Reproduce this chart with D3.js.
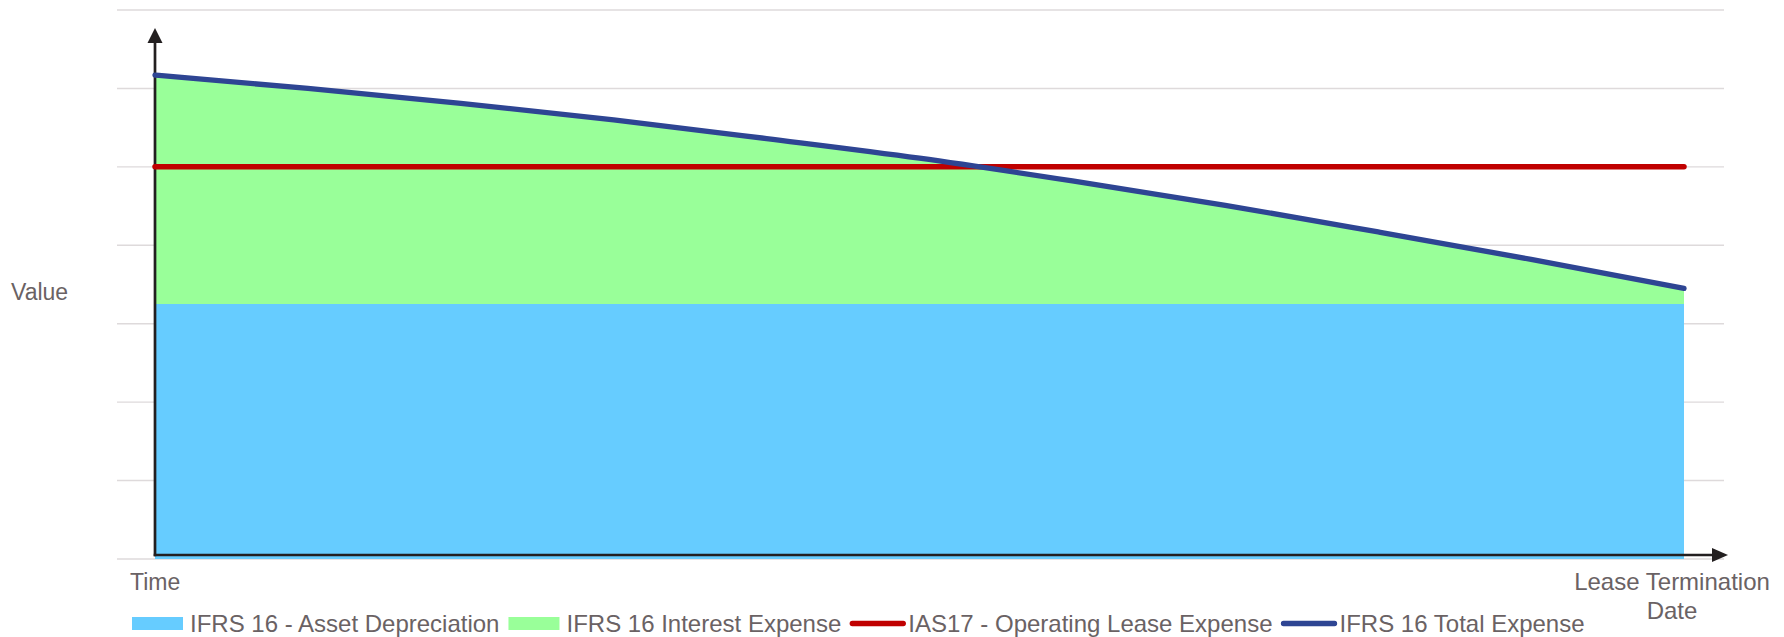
<!DOCTYPE html>
<html>
<head>
<meta charset="utf-8">
<script src="https://cdn.jsdelivr.net/npm/d3@7"></script>
<style>
  body { margin: 0; background: #fff; }
  text { font-family: "Liberation Sans", Arial, sans-serif; }
</style>
</head>
<body>
<svg id="chart" width="1784" height="637"></svg>
<script>
// ########################################## DATA
const periods = [0, 1, 2, 3, 4, 5, 6, 7, 8, 9, 10];
const assetDepreciation = [3.25, 3.25, 3.25, 3.25, 3.25, 3.25, 3.25, 3.25, 3.25, 3.25, 3.25];
const interestExpense = [2.92, 2.75, 2.56, 2.35, 2.11, 1.86, 1.57, 1.26, 0.92, 0.57, 0.20];
const operatingLease = [5, 5, 5, 5, 5, 5, 5, 5, 5, 5, 5];
const gridValues = [0, 1, 2, 3, 4, 5, 6, 7];
const legendLabels = [
  'IFRS 16 - Asset Depreciation',
  'IFRS 16 Interest Expense',
  'IAS17 - Operating Lease Expense',
  'IFRS 16 Total Expense',
];

const colors = {
  depreciation: '#66CCFF',
  interest: '#99FF99',
  lease: '#C00000',
  total: '#2E4593',
  axis: '#231F20',
  grid: '#DEDADB',
  text: '#6a6264',
};

// build the table the stack wants
const rows = periods.map((p, i) => ({
  period: p,
  depreciation: assetDepreciation[i],
  interest: interestExpense[i],
  lease: operatingLease[i],
}));
const totals = rows.map((r) => ({ period: r.period, value: r.depreciation + r.interest }));

const svg = d3.select('#chart');

// scales
const x = d3.scaleLinear().domain([0, 10]).range([155, 1684]);
const y = d3.scaleLinear().domain([0, 7]).range([559, 10]);

// gridlines
svg.append('g')
  .selectAll('line')
  .data(gridValues)
  .enter()
  .append('line')
  .attr('x1', 117)
  .attr('x2', 1724)
  .attr('y1', (d) => y(d))
  .attr('y2', (d) => y(d))
  .attr('stroke', colors.grid)
  .attr('stroke-width', 1.4);

// stacked areas (depreciation at the bottom, interest on top)
const stack = d3.stack().keys(['depreciation', 'interest']);
const series = stack(rows);

const area = d3.area()
  .x((d) => x(d.data.period))
  .y0((d) => y(d[0]))
  .y1((d) => y(d[1]))
  .curve(d3.curveMonotoneX);

svg.append('g')
  .selectAll('path')
  .data(series)
  .enter()
  .append('path')
  .attr('d', area)
  .attr('fill', (d) => colors[d.key]);

// axes drawn as arrows
const axisY = y(0) - 4;
const axes = svg.append('g');
axes.append('line')
  .attr('x1', x(0)).attr('x2', x(0))
  .attr('y1', axisY + 1.3).attr('y2', 40)
  .attr('stroke', colors.axis).attr('stroke-width', 2.7);
axes.append('path')
  .attr('d', `M${x(0)},28 L${x(0) - 7.5},43 L${x(0) + 7.5},43 Z`)
  .attr('fill', colors.axis);
axes.append('line')
  .attr('x1', x(0) - 1.3).attr('x2', 1714)
  .attr('y1', axisY).attr('y2', axisY)
  .attr('stroke', colors.axis).attr('stroke-width', 2.7);
axes.append('path')
  .attr('d', `M1728,${axisY} L1712,${axisY - 7} L1712,${axisY + 7} Z`)
  .attr('fill', colors.axis);

// lines
const line = d3.line()
  .x((d) => x(d.period))
  .y((d) => y(d.value));

svg.append('path')
  .datum(rows.map((r) => ({ period: r.period, value: r.lease })))
  .attr('d', line)
  .attr('fill', 'none')
  .attr('stroke', colors.lease)
  .attr('stroke-width', 5.5)
  .attr('stroke-linecap', 'round');

svg.append('path')
  .datum(totals)
  .attr('d', line.curve(d3.curveMonotoneX))
  .attr('fill', 'none')
  .attr('stroke', colors.total)
  .attr('stroke-width', 5.3)
  .attr('stroke-linecap', 'round');

// axis labels
const labelSize = '24px';
svg.append('text')
  .attr('x', 11).attr('y', 300)
  .attr('font-size', '23px').attr('fill', colors.text)
  .text('Value');
svg.append('text')
  .attr('x', 130).attr('y', 590)
  .attr('font-size', '23px').attr('fill', colors.text)
  .text('Time');
const endLabel = svg.append('text')
  .attr('text-anchor', 'middle')
  .attr('font-size', labelSize).attr('fill', colors.text);
endLabel.append('tspan').attr('x', 1672).attr('y', 590).text('Lease Termination');
endLabel.append('tspan').attr('x', 1672).attr('y', 619).text('Date');

// ########################################## LEGEND
const legendKinds = ['rect', 'rect', 'line', 'line'];
const legendColors = [colors.depreciation, colors.interest, colors.lease, colors.total];
const legend = svg.append('g');
let cursor = 132;
legendLabels.forEach((label, i) => {
  if (legendKinds[i] === 'rect') {
    legend.append('rect')
      .attr('x', cursor).attr('y', 617)
      .attr('width', 51).attr('height', 13)
      .attr('fill', legendColors[i]);
  } else {
    legend.append('line')
      .attr('x1', cursor + 2).attr('x2', cursor + 53)
      .attr('y1', 623.5).attr('y2', 623.5)
      .attr('stroke', legendColors[i]).attr('stroke-width', 5.3)
      .attr('stroke-linecap', 'round');
  }
  const t = legend.append('text')
    .attr('x', cursor + 58).attr('y', 632)
    .attr('font-size', labelSize).attr('fill', colors.text)
    .text(label);
  cursor += 58 + t.node().getComputedTextLength() + 9;
});
</script>
</body>
</html>
